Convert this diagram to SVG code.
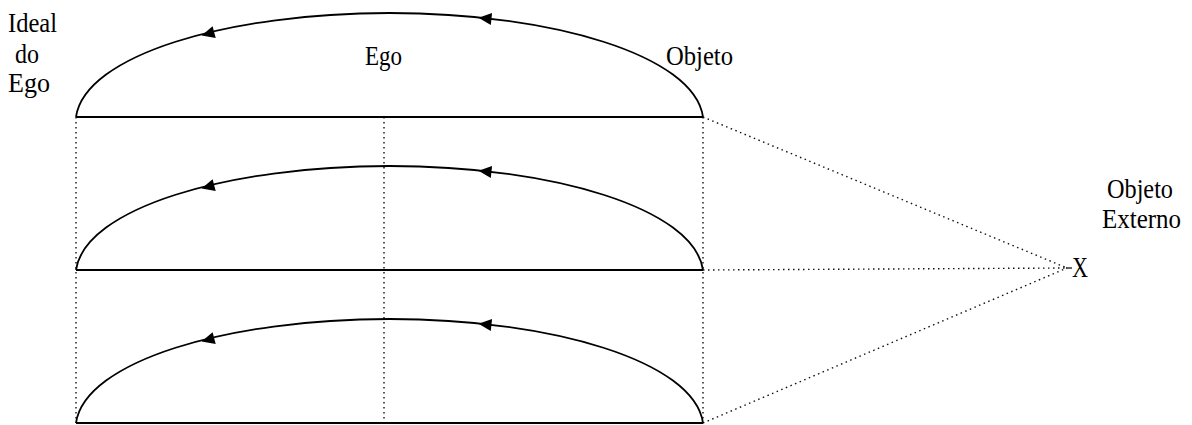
<svg xmlns="http://www.w3.org/2000/svg" xmlns:xlink="http://www.w3.org/1999/xlink" width="1192" height="425" viewBox="0 0 1192 425">
<style>
.lbl{font-family:"Liberation Serif","Times New Roman",serif;font-size:28px;fill:#000}
.base{stroke:#000;stroke-width:2;fill:none}
.arc{stroke:#000;stroke-width:1.8;fill:none}
.dot{stroke:#111;stroke-width:1.4;fill:none;stroke-dasharray:1.5 3.5}
</style>
<defs>
<path id="arcShape" d="M76,117 C85,55 228,13 389.5,13 C551,13 694,55 703,117"/>
<path id="ah" d="M0,0 L-13,-6 L-13,6 Z" fill="#000"/>
</defs>
<rect width="1192" height="425" fill="#fff"/>
<g id="connectors">
  <line class="dot" x1="76" y1="117" x2="76" y2="423"/>
  <line class="dot" x1="384" y1="117" x2="384" y2="423"/>
  <line class="dot" x1="703" y1="117" x2="703" y2="423"/>
  <line class="dot" x1="703" y1="117" x2="1067" y2="268"/>
  <line class="dot" x1="703" y1="270" x2="1067" y2="268"/>
  <line class="dot" x1="703" y1="423" x2="1067" y2="268"/>
  <line x1="1066" y1="268" x2="1072" y2="268" stroke="#000" stroke-width="1.2"/>
</g>
<g id="level1">
  <use xlink:href="#arcShape" class="arc"/>
  <line class="base" x1="76" y1="117" x2="703" y2="117"/>
  <use xlink:href="#ah" transform="translate(478.5,17.7) rotate(186)"/>
  <use xlink:href="#ah" transform="translate(201.6,35.5) rotate(165)"/>
</g>
<g id="level2" transform="translate(0,153)">
  <use xlink:href="#arcShape" class="arc"/>
  <line class="base" x1="76" y1="117" x2="703" y2="117"/>
  <use xlink:href="#ah" transform="translate(478.5,17.7) rotate(186)"/>
  <use xlink:href="#ah" transform="translate(201.6,35.5) rotate(165)"/>
</g>
<g id="level3" transform="translate(0,306)">
  <use xlink:href="#arcShape" class="arc"/>
  <line class="base" x1="76" y1="117" x2="703" y2="117"/>
  <use xlink:href="#ah" transform="translate(478.5,17.7) rotate(186)"/>
  <use xlink:href="#ah" transform="translate(201.6,35.5) rotate(165)"/>
</g>
<g id="ideal-do-ego">
  <text class="lbl" x="8" y="32" textLength="49" lengthAdjust="spacingAndGlyphs">Ideal</text>
  <text class="lbl" x="15" y="63" textLength="24" lengthAdjust="spacingAndGlyphs">do</text>
  <text class="lbl" x="8" y="92" textLength="42" lengthAdjust="spacingAndGlyphs">Ego</text>
</g>
<g id="ego">
  <text class="lbl" x="365" y="65" textLength="37" lengthAdjust="spacingAndGlyphs">Ego</text>
</g>
<g id="objeto">
  <text class="lbl" x="666" y="65" textLength="67" lengthAdjust="spacingAndGlyphs">Objeto</text>
</g>
<g id="objeto-externo">
  <text class="lbl" x="1107" y="198" textLength="66" lengthAdjust="spacingAndGlyphs">Objeto</text>
  <text class="lbl" x="1102" y="228" textLength="79" lengthAdjust="spacingAndGlyphs">Externo</text>
</g>
<g id="x-node">
  <text class="lbl" x="1072" y="277" style="font-size:30px" textLength="16" lengthAdjust="spacingAndGlyphs">X</text>
</g>
</svg>
